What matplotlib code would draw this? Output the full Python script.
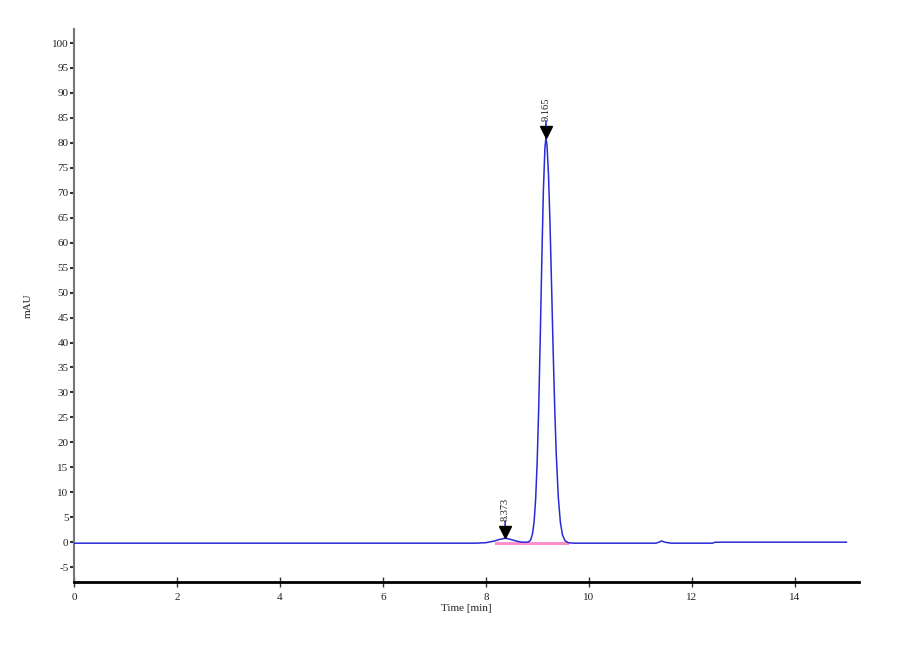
import numpy as np
import matplotlib
matplotlib.use('Agg')
import matplotlib.pyplot as plt
import matplotlib.transforms as mtransforms

plt.rcParams['font.family'] = ['Liberation Serif', 'DejaVu Serif']
plt.rcParams['axes.unicode_minus'] = False

# 読み取った検出器信号 (min, mAU)
time_min = [0.00, 2.00, 4.00, 6.00, 7.80, 8.00, 8.15, 8.25, 8.373, 8.48, 8.60, 8.70,
            8.815, 8.865, 8.905, 8.935, 8.965, 8.995, 9.025, 9.055, 9.085, 9.115,
            9.145, 9.165, 9.185, 9.215, 9.245, 9.275, 9.305, 9.335, 9.365, 9.405,
            9.445, 9.485, 9.535, 9.595, 9.70, 10.00, 11.30, 11.36, 11.41, 11.46,
            11.50, 11.60, 12.40, 12.45, 13.00, 14.00, 15.00]
signal_mau = [-0.2, -0.2, -0.2, -0.2, -0.2, -0.1, 0.2, 0.5, 0.8, 0.55, 0.2, 0.0,
              0.0, 0.35, 1.7, 4.1, 8.6, 16.1, 27.1, 41.2, 56.6, 70.3,
              79.0, 81.0, 79.6, 73.5, 63.4, 51.1, 38.4, 27.0, 17.7, 9.0,
              4.0, 1.5, 0.3, -0.1, -0.2, -0.2, -0.2, 0.0, 0.25, 0.05,
              -0.05, -0.2, -0.2, 0.0, 0.0, 0.0, 0.0]

# ピーク情報
peak_times = [8.373, 9.165]
peak_heights = [0.8, 81.0]
peak_labels = ['8.373', '9.165']

# 積分ベースライン
baseline_t = [8.20, 9.57]
baseline_v = [-0.1, -0.1]

x_ticks = [0, 2, 4, 6, 8, 10, 12, 14]
y_ticks = list(range(-5, 101, 5))

BLUE = '#2a2ad8'
TXT = '#222222'

fig = plt.figure(figsize=(9, 6.6), dpi=100)
ax = fig.add_axes([0.0822, 0.118, 0.872, 0.838])

ax.plot(baseline_t, baseline_v, color='#ff8fc8', lw=2.2, zorder=2)
ax.plot(time_min, signal_mau, color=BLUE, lw=1.1, zorder=3)

# ピークマーカー (下向き三角形 + 青い軸 + ラベル)
for t, h, lab in zip(peak_times, peak_heights, peak_labels):
    tri = mtransforms.offset_copy(ax.transData, fig=fig, y=6, units='dots')
    ax.plot([t], [h], marker='v', color='black', markersize=9, transform=tri, zorder=5)
    stem_lo = mtransforms.offset_copy(ax.transData, fig=fig, y=10, units='dots')
    stem_hi = mtransforms.offset_copy(ax.transData, fig=fig, y=17, units='dots')
    ax.annotate('', xy=(t, h), xycoords=stem_lo, xytext=(t, h), textcoords=stem_hi,
                arrowprops=dict(arrowstyle='-', color=BLUE, lw=1.2,
                                shrinkA=0, shrinkB=0))
    txt = mtransforms.offset_copy(ax.transData, fig=fig, y=17, units='dots')
    ax.text(t, h, lab, rotation=90, ha='center', va='bottom', fontsize=7.5,
            transform=txt, color=TXT)

ax.set_xlim(0, 15.24)
ax.set_ylim(-8.0, 102.8)
ax.set_xticks(x_ticks)
ax.set_yticks(y_ticks)

for side in ['top', 'right']:
    ax.spines[side].set_visible(False)
ax.spines['left'].set_color('#777777')
ax.spines['left'].set_linewidth(1.5)
ax.spines['bottom'].set_color('black')
ax.spines['bottom'].set_linewidth(2)

ax.tick_params(axis='y', direction='out', length=3, width=1.5, color='#333333',
               labelsize=8, pad=1, labelcolor=TXT)
ax.tick_params(axis='x', direction='inout', length=7, width=1, color='#333333',
               labelsize=8, pad=4, labelcolor=TXT)

ax.set_xlabel('Time [min]', fontsize=8, labelpad=2, color=TXT)
ax.set_ylabel('mAU', fontsize=8, labelpad=14, color=TXT)

fig.savefig('out.png', dpi=100)
